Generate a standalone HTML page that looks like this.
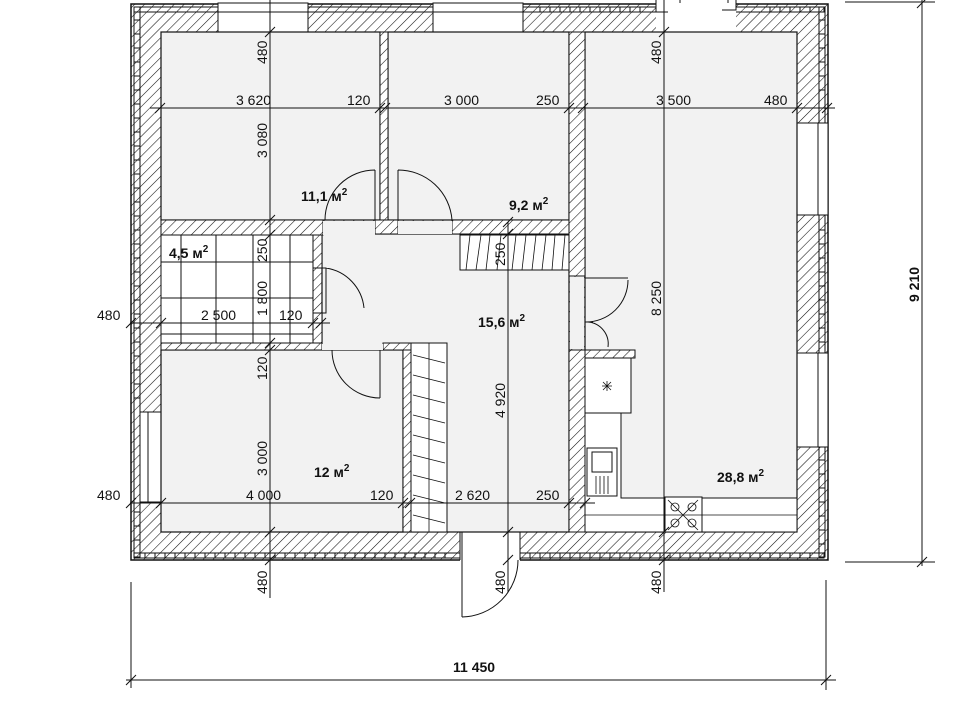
<!DOCTYPE html>
<html><head><meta charset="utf-8"><style>
html,body{margin:0;padding:0;background:#fff}
svg{display:block}
text{font-family:"Liberation Sans",sans-serif;font-size:14px;fill:#111}
.b{font-weight:bold}
</style></head><body>
<svg width="960" height="720" viewBox="0 0 960 720" xmlns="http://www.w3.org/2000/svg">
<defs>
<pattern id="h" width="7" height="7" patternUnits="userSpaceOnUse" patternTransform="rotate(45)">
<rect width="7" height="7" fill="#fff"/><line x1="0" y1="0" x2="0" y2="7" stroke="#111" stroke-width="1.1"/>
</pattern>
</defs>
<rect x="131" y="4" width="697" height="556" fill="url(#h)" stroke="#111" stroke-width="1.5"/>
<g fill="none" stroke="#111" stroke-width="1">
<rect x="134" y="7" width="6" height="550"/>
<rect x="134" y="553" width="690" height="5"/>
<rect x="819" y="7" width="6" height="550"/>
<rect x="134" y="7" width="690" height="5"/>
</g>
<g stroke="#111" stroke-width="1">
<path d="M134 20h6M134 34h6M134 48h6M134 62h6M134 76h6M134 90h6M134 104h6M134 118h6M134 132h6M134 146h6M134 160h6M134 174h6M134 188h6M134 202h6M134 216h6M134 230h6M134 244h6M134 258h6M134 272h6M134 286h6M134 300h6M134 314h6M134 328h6M134 342h6M134 356h6M134 370h6M134 384h6M134 398h6M134 512h6M134 526h6M134 540h6"/>
<path d="M819 20h6M819 34h6M819 48h6M819 62h6M819 76h6M819 90h6M819 230h6M819 244h6M819 258h6M819 272h6M819 286h6M819 300h6M819 314h6M819 328h6M819 342h6M819 460h6M819 474h6M819 488h6M819 502h6M819 516h6M819 530h6M819 544h6"/>
</g>
<g stroke="#111" stroke-width="1">
<path d="M145 553v5M155 553v5M165 553v5M175 553v5M185 553v5M195 553v5M205 553v5M215 553v5M225 553v5M235 553v5M245 553v5M255 553v5M265 553v5M275 553v5M285 553v5M295 553v5M305 553v5M315 553v5M325 553v5M335 553v5M345 553v5M355 553v5M365 553v5M375 553v5M385 553v5M395 553v5M405 553v5M415 553v5M425 553v5M435 553v5M445 553v5M530 553v5M540 553v5M550 553v5M560 553v5M570 553v5M580 553v5M590 553v5M600 553v5M610 553v5M620 553v5M630 553v5M640 553v5M650 553v5M660 553v5M670 553v5M680 553v5M690 553v5M700 553v5M710 553v5M720 553v5M730 553v5M740 553v5M750 553v5M760 553v5M770 553v5M780 553v5M790 553v5M800 553v5M810 553v5"/>
<path d="M230 7v5M250 7v5M540 7v5M550 7v5M560 7v5M570 7v5M580 7v5M590 7v5M600 7v5M610 7v5M620 7v5M630 7v5M640 7v5M770 7v5M780 7v5M790 7v5M800 7v5M810 7v5"/>
</g>
<g fill="#fff" stroke="#111" stroke-width="1">
<rect x="218" y="3" width="90" height="29"/>
<rect x="433" y="3" width="90" height="29"/>
<rect x="656" y="0" width="80" height="33" stroke="none"/>
<rect x="140" y="412" width="21" height="90"/>
<rect x="797" y="123" width="31" height="92"/>
<rect x="797" y="353" width="31" height="94"/>
<rect x="460" y="531" width="60" height="30" stroke="none"/>
</g>
<g stroke="#111" stroke-width="1" fill="none">
<path d="M218 12h90M433 12h90M148 412v90M818 123v92M818 353v94"/>
<path d="M656 0v12h12M736 0v10h-14M680 0v3M728 0v3"/>
<path d="M460 532v28M520 532v28"/>
</g>
<g fill="#f2f2f2" stroke="#111" stroke-width="1.2">
<rect x="161" y="32" width="219" height="188"/>
<rect x="388" y="32" width="181" height="188"/>
<rect x="585" y="32" width="212" height="500"/>
<rect x="322" y="234" width="247" height="298"/>
<rect x="161" y="350" width="242" height="182"/>
</g>
<rect x="161" y="235" width="152" height="108" fill="#fff" stroke="#111"/>
<g fill="url(#h)" stroke="#111" stroke-width="1">
<rect x="380" y="32" width="8" height="190"/>
<rect x="569" y="32" width="16" height="244"/>
<rect x="569" y="350" width="16" height="182"/>
<rect x="161" y="220" width="162" height="15"/>
<rect x="452" y="220" width="117" height="14"/>
<rect x="375" y="220" width="23" height="14"/>
<rect x="313" y="235" width="9" height="33"/>
<rect x="313" y="313" width="9" height="37"/>
<rect x="161" y="343" width="161" height="7"/>
<rect x="383" y="343" width="28" height="7"/>
<rect x="403" y="350" width="8" height="182"/>
<rect x="585" y="350" width="50" height="8"/>
</g>
<g fill="#f2f2f2" stroke="none">
<rect x="323" y="221" width="52" height="14"/>
<rect x="398" y="221" width="54" height="13"/>
<rect x="570" y="277" width="14" height="72"/>
<rect x="322" y="344" width="61" height="6"/>
</g>
<g stroke="#111" stroke-width="1" fill="none">
<path d="M375 220V170M375 170A50 50 0 0 0 325 220"/>
<path d="M398 220V170M398 170A54 54 0 0 1 452 220"/>
<path d="M322 268h4v45h-4M326 268A45 45 0 0 1 364 308"/>
<path d="M380 350v48M380 398A48 48 0 0 1 332 350"/>
<path d="M585 278h43M585 278v44M628 280A42 42 0 0 1 585 322"/>
<path d="M585 322h8M588 322A22 22 0 0 1 608 347"/>
<path d="M462 532v85M462 617A57 57 0 0 0 518 560"/>
</g>
<g stroke="#111" stroke-width="1">
<path d="M181 235v108M216 235v108M253 235v108M290 235v108M161 262h152M161 298h152M161 334h152"/>
</g>
<rect x="460" y="235" width="109" height="35" fill="#fff" stroke="#111"/>
<g stroke="#111" stroke-width="0.8">
<path d="M466 270l4-35M476 270l5-35M486 270l4-35M497 270l4-35M512 270l4-35M522 270l4-35M532 270l4-35M542 270l4-35M552 270l3-35M562 270l3-35"/>
</g>
<rect x="411" y="343" width="36" height="189" fill="#fff" stroke="#111"/>
<g stroke="#111" stroke-width="0.8">
<path d="M429 343v189"/>
<path d="M413 355l32 8M413 375l32 8M413 395l32 8M413 415l32 8M413 435l32 8M413 455l32 8M413 475l32 8M413 495l32 8M413 515l32 8"/>
</g>
<g fill="#fff" stroke="#111" stroke-width="1">
<path d="M585 360h36v138h176v34h-212z"/>
<rect x="585" y="358" width="46" height="55"/>
<rect x="587" y="448" width="30" height="48"/>
<rect x="592" y="452" width="20" height="20"/>
<rect x="665" y="497" width="37" height="35"/>
</g>
<g stroke="#111" stroke-width="0.8" fill="none">
<path d="M585 515h212"/>
<path d="M596 476v18M600 476v18M604 476v18M608 476v18"/>
<path d="M602 386l10 0M607 381v10M603 382l8 8M611 382l-8 8"/>
<circle cx="675" cy="507" r="4"/><circle cx="692" cy="507" r="4"/><circle cx="675" cy="523" r="4"/><circle cx="692" cy="523" r="4"/>
<path d="M668 500l30 30M698 500l-30 30"/>
</g>
<g stroke="#111" stroke-width="1">
<path d="M150 108h685M130 323h200M130 503h465"/>
<path d="M270 0v598M508 222v370M664 0v592"/>
<path d="M922 0v566M845 2h90M845 562h90"/>
<path d="M131 582v106M826 580v110M126 680h710"/>
<path d="M155 113l10-10M375 113l10-10M380 113l10-10M564 113l10-10M578 113l10-10M792 113l10-10M822 113l10-10"/>
<path d="M126 328l10-10M156 328l10-10M308 328l10-10M316 328l10-10"/>
<path d="M126 508l10-10M156 508l10-10M398 508l10-10M405 508l10-10M564 508l10-10M580 508l10-10"/>
<path d="M265 37l10-10M265 225l10-10M265 240l10-10M265 348l10-10M265 355l10-10M265 537l10-10M265 565l10-10"/>
<path d="M503 227l10-10M503 239l10-10M503 537l10-10M503 565l10-10"/>
<path d="M659 37l10-10M659 537l10-10M659 565l10-10"/>
<path d="M917 8l10-10M917 567l10-10M126 685l10-10M821 685l10-10"/>
</g>
<text x="236" y="105">3 620</text>
<text x="347" y="105">120</text>
<text x="444" y="105">3 000</text>
<text x="536" y="105">250</text>
<text x="656" y="105">3 500</text>
<text x="764" y="105">480</text>
<text x="97" y="320">480</text>
<text x="201" y="320">2 500</text>
<text x="279" y="320">120</text>
<text x="97" y="500">480</text>
<text x="246" y="500">4 000</text>
<text x="370" y="500">120</text>
<text x="455" y="500">2 620</text>
<text x="536" y="500">250</text>
<text x="453" y="672" class="b">11 450</text>
<g>
<text transform="translate(267,64) rotate(-90)">480</text>
<text transform="translate(267,158) rotate(-90)">3 080</text>
<text transform="translate(267,262) rotate(-90)">250</text>
<text transform="translate(267,316) rotate(-90)">1 800</text>
<text transform="translate(267,380) rotate(-90)">120</text>
<text transform="translate(267,476) rotate(-90)">3 000</text>
<text transform="translate(267,594) rotate(-90)">480</text>
<text transform="translate(505,266) rotate(-90)">250</text>
<text transform="translate(505,418) rotate(-90)">4 920</text>
<text transform="translate(505,594) rotate(-90)">480</text>
<text transform="translate(661,64) rotate(-90)">480</text>
<text transform="translate(661,316) rotate(-90)">8 250</text>
<text transform="translate(661,594) rotate(-90)">480</text>
<text transform="translate(919,302) rotate(-90)" class="b">9 210</text>
</g>
<g>
<text x="301" y="201" class="b">11,1 м<tspan dy="-6" font-size="10">2</tspan></text>
<text x="509" y="210" class="b">9,2 м<tspan dy="-6" font-size="10">2</tspan></text>
<text x="169" y="258" class="b">4,5 м<tspan dy="-6" font-size="10">2</tspan></text>
<text x="478" y="327" class="b">15,6 м<tspan dy="-6" font-size="10">2</tspan></text>
<text x="314" y="477" class="b">12 м<tspan dy="-6" font-size="10">2</tspan></text>
<text x="717" y="482" class="b">28,8 м<tspan dy="-6" font-size="10">2</tspan></text>
</g>
</svg>
</body></html>
